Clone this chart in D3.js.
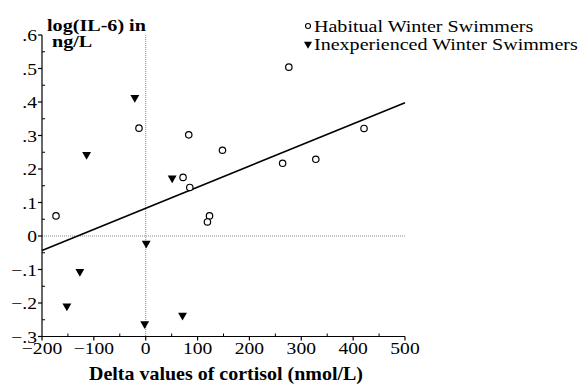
<!DOCTYPE html>
<html><head><meta charset="utf-8">
<script src="https://cdn.jsdelivr.net/npm/d3@7"></script>
<style>body{margin:0;background:#fff}svg{display:block}text{font-family:"Liberation Serif","Times New Roman",serif;fill:#000}</style>
</head><body>
<script>
// Habitual Winter Swimmers (circles)
const habX = [-173, -13, 83, 72, 85, 123, 119, 148, 264, 328, 421, 276];
const habY = [0.06, 0.322, 0.302, 0.175, 0.145, 0.06, 0.042, 0.256, 0.217, 0.229, 0.321, 0.504];
// Inexperienced Winter Swimmers (triangles)
const inexX = [-21, -114, 51, 1, -127, -152, -2, 71];
const inexY = [0.413, 0.243, 0.173, -0.022, -0.106, -0.209, -0.262, -0.237];
// regression line endpoints
const fitX = [-200, 500];
const fitY = [-0.043, 0.398];
const xTicks = [-200, -100, 0, 100, 200, 300, 400, 500];
const xTickLabels = ["\u2212200", "\u2212100", "0", "100", "200", "300", "400", "500"];
const xMinor = [-150, -50, 50, 150, 250, 350, 450];
const yTicks = [0.6, 0.5, 0.4, 0.3, 0.2, 0.1, 0, -0.1, -0.2, -0.3];
const yTickLabels = [".6", ".5", ".4", ".3", ".2", ".1", "0", "\u2212.1", "\u2212.2", "\u2212.3"];
const yMinor = [0.55, 0.45, 0.35, 0.25, 0.15, 0.05, -0.05, -0.15, -0.25];
const legendLabels = ["Habitual Winter Swimmers", "Inexperienced Winter Swimmers"];

const W = 584, H = 385;
const svg = d3.select("body").append("svg").attr("width", W).attr("height", H);
const x = d3.scaleLinear().domain([-200, 500]).range([42, 405]);
const y = d3.scaleLinear().domain([-0.3, 0.6]).range([336.5, 35]);

function txt(g, tx, ty, s, anchor, weight, fs, sx) {
  return g.append("text").attr("transform", `translate(${tx},${ty}) scale(${sx},1)`)
    .attr("text-anchor", anchor).attr("font-size", fs).attr("font-weight", weight || "normal").text(s);
}

// reference dotted lines
svg.append("line").attr("x1", x(-200)).attr("x2", x(500)).attr("y1", y(0)).attr("y2", y(0))
  .attr("stroke", "#888").attr("stroke-width", 1).attr("stroke-dasharray", "1,1");
svg.append("line").attr("x1", x(0)).attr("x2", x(0)).attr("y1", y(0.6)).attr("y2", y(-0.3))
  .attr("stroke", "#888").attr("stroke-width", 1).attr("stroke-dasharray", "1,1");

// axes
const ax = svg.append("g").attr("stroke", "#000").attr("stroke-width", 1.2);
ax.append("line").attr("x1", x(-200)).attr("x2", x(-200)).attr("y1", y(0.6)).attr("y2", y(-0.3));
ax.append("line").attr("x1", x(-200)).attr("x2", x(500)).attr("y1", y(-0.3)).attr("y2", y(-0.3));
yTicks.forEach(v => ax.append("line").attr("x1", x(-200) - 4).attr("x2", x(-200)).attr("y1", y(v)).attr("y2", y(v)));
yMinor.forEach(v => ax.append("line").attr("x1", x(-200)).attr("x2", x(-200) + 3).attr("y1", y(v)).attr("y2", y(v)).attr("stroke-width", 1));
xTicks.forEach(v => ax.append("line").attr("x1", x(v)).attr("x2", x(v)).attr("y1", y(-0.3)).attr("y2", y(-0.3) + 4));
xMinor.forEach(v => ax.append("line").attr("x1", x(v)).attr("x2", x(v)).attr("y1", y(-0.3)).attr("y2", y(-0.3) - 3).attr("stroke-width", 1));

const tl = svg.append("g");
yTicks.forEach((v, i) => txt(tl, 37, y(v) + 6, yTickLabels[i], "end", null, 17.5, 1.12));
xTicks.forEach((v, i) => txt(tl, x(v), 354, xTickLabels[i], "middle", null, 17.5, 1.12));

// titles
txt(svg, 47, 31, "log(IL-6) in", "start", "bold", 17.5, 1.15);
txt(svg, 52, 47, "ng/L", "start", "bold", 17.5, 1.15);
txt(svg, 226, 380, "Delta values of cortisol (nmol/L)", "middle", "bold", 18, 1.11);

// regression line
const line = d3.line().x(d => x(d[0])).y(d => y(d[1]));
svg.append("path").datum(d3.zip(fitX, fitY)).attr("d", line)
  .attr("fill", "none").attr("stroke", "#000").attr("stroke-width", 1.6);

// points
svg.append("g").selectAll("circle").data(d3.zip(habX, habY)).join("circle")
  .attr("cx", d => x(d[0])).attr("cy", d => y(d[1])).attr("r", 3.2)
  .attr("fill", "#fff").attr("stroke", "#000").attr("stroke-width", 1.2);
const tri = d3.symbol().type(d3.symbolTriangle).size(34);
svg.append("g").selectAll("path").data(d3.zip(inexX, inexY)).join("path")
  .attr("d", tri).attr("transform", d => `translate(${x(d[0])},${y(d[1])}) rotate(180)`)
  .attr("fill", "#000");

// legend
const lg = svg.append("g");
lg.append("circle").attr("cx", 308).attr("cy", 26).attr("r", 2.5).attr("fill", "#fff").attr("stroke", "#000").attr("stroke-width", 1.1);
lg.append("path").attr("d", d3.symbol().type(d3.symbolTriangle).size(28)).attr("transform", "translate(308,44) rotate(180)").attr("fill", "#000");
txt(lg, 314, 32, legendLabels[0], "start", null, 17, 1.18);
txt(lg, 314, 50, legendLabels[1], "start", null, 17, 1.18);
</script>
</body></html>
